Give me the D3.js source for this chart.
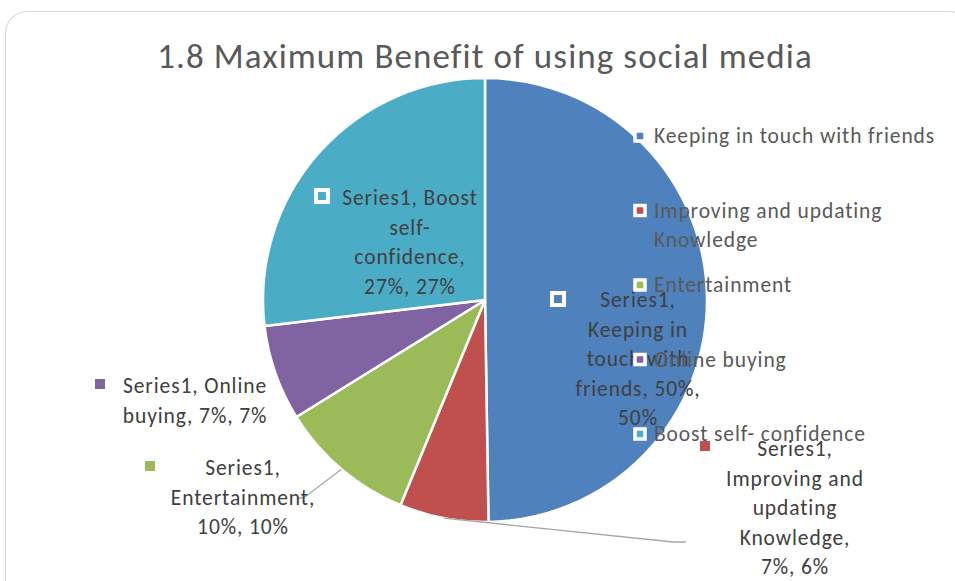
<!DOCTYPE html>
<html>
<head>
<meta charset="utf-8">
<script src="https://cdn.jsdelivr.net/npm/d3@7"></script>
<style>
  body { margin: 0; background: #fff; }
  svg { display: block; font-family: Calibri, Carlito, Lato, sans-serif; }
</style>
</head>
<body>
<svg id="chart" width="955" height="581"></svg>
<script>
// ---- data ----
const chartTitle = "1.8 Maximum Benefit of using social media";
const seriesName = "Series1";
const categories = [
  "Keeping in touch with friends",
  "Improving and updating Knowledge",
  "Entertainment",
  "Online buying",
  "Boost self- confidence"
];
const values = [0.50, 0.065, 0.10, 0.07, 0.27];
const colors = ["#4F81BD", "#C0504D", "#9BBB59", "#8064A2", "#4BACC6"];

// ---- layout ----
const cx = 485, cy = 300, R = 222;
const lineH = 29.5;
// data-label placement: text centre x, first baseline y, words per line, key position, leader end
const labelLayout = [
  { x: 638, y: 307, words: [1, 2, 2, 2, 1], kx: 558, ky: 299, boxed: true },
  { x: 795, y: 456, words: [1, 2, 1, 1, 2], kx: 705, ky: 446, leader: [[673, 542], [686, 542]] },
  { x: 243, y: 475, words: [1, 1, 2], kx: 150, ky: 466, leader: [[305, 497], [297, 499]] },
  { x: 195, y: 393, words: [2, 3], kx: 100, ky: 384 },
  { x: 410, y: 205, words: [2, 1, 1, 2], kx: 322, ky: 196, boxed: true }
];

const svg = d3.select("#chart");
const fmt = d3.format(".0%");
const total = d3.sum(values);

// chart frame
svg.append("rect")
  .attr("x", 5.5).attr("y", 11.5)
  .attr("width", 965).attr("height", 620)
  .attr("rx", 22).attr("ry", 22)
  .attr("fill", "#fff").attr("stroke", "#d9d9d9").attr("stroke-width", 1.2);

// title
svg.append("text")
  .attr("x", cx).attr("y", 68)
  .attr("text-anchor", "middle")
  .attr("font-size", 35)
  .attr("letter-spacing", 1.1)
  .attr("fill", "#595959")
  .text(chartTitle);

// pie
const pie = d3.pie().sort(null).value(d => d);
const arcs = pie(values);
const arc = d3.arc().innerRadius(0).outerRadius(R);

const g = svg.append("g").attr("transform", `translate(${cx},${cy})`);
g.selectAll("path.slice")
  .data(arcs)
  .join("path")
  .attr("class", "slice")
  .attr("d", arc)
  .attr("fill", (d, i) => colors[i])
  .attr("stroke", "#fff")
  .attr("stroke-width", 2.5)
  .attr("stroke-linejoin", "round");

// leader lines from the slice edge at its mid-angle
arcs.forEach((a, i) => {
  const L = labelLayout[i];
  if (!L.leader) return;
  const mid = (a.startAngle + a.endAngle) / 2;
  const start = [cx + R * Math.sin(mid), cy - R * Math.cos(mid)];
  svg.append("path")
    .attr("d", d3.line()([start, ...L.leader]))
    .attr("fill", "none")
    .attr("stroke", "#a6a6a6")
    .attr("stroke-width", 1.3);
});

// split a label into lines using a words-per-line pattern
function splitLines(text, pattern) {
  const words = text.split(" ");
  const lines = [];
  let p = 0;
  pattern.forEach(n => { lines.push(words.slice(p, p + n).join(" ")); p += n; });
  if (p < words.length) lines.push(words.slice(p).join(" "));
  return lines;
}

// word wrapping by rendered width (legend)
function wrapWords(text, width, size) {
  const probe = svg.append("text").attr("font-size", size)
    .attr("letter-spacing", 0.9).attr("visibility", "hidden");
  const words = text.split(" ");
  const lines = [];
  let cur = "";
  words.forEach(w => {
    const trial = cur ? cur + " " + w : w;
    probe.text(trial);
    if (cur && probe.node().getComputedTextLength() > width) {
      lines.push(cur);
      cur = w;
    } else {
      cur = trial;
    }
  });
  if (cur) lines.push(cur);
  probe.remove();
  return lines;
}

// data labels
const labelSize = 21.5;
arcs.forEach((a, i) => {
  const L = labelLayout[i];
  const str = `${seriesName}, ${categories[i]}, ${fmt(values[i])}, ${fmt(values[i] / total)}`;
  const lines = splitLines(str, L.words);
  const ks = L.boxed ? 12 : 10;
  svg.append("rect")
    .attr("x", L.kx - ks / 2).attr("y", L.ky - ks / 2)
    .attr("width", ks).attr("height", ks)
    .attr("fill", colors[i])
    .attr("stroke", "#fff").attr("stroke-width", L.boxed ? 4 : 0);
  const t = svg.append("text")
    .attr("text-anchor", "middle")
    .attr("font-size", labelSize)
    .attr("letter-spacing", 0.9)
    .attr("fill", "#404040");
  lines.forEach((ln, k) => {
    t.append("tspan").attr("x", L.x).attr("y", L.y + k * lineH).text(ln);
  });
});

// legend
const legendX = 640, legendTop = 136, legendStep = 74.5, legendSize = 21.5;
categories.forEach((c, i) => {
  const y = legendTop + i * legendStep;
  svg.append("rect")
    .attr("x", legendX - 5).attr("y", y - 5)
    .attr("width", 10).attr("height", 10)
    .attr("fill", colors[i])
    .attr("stroke", "#fff").attr("stroke-width", 3.5);
  const lines = wrapWords(c, 295, legendSize);
  const t = svg.append("text")
    .attr("font-size", legendSize)
    .attr("letter-spacing", 0.9)
    .attr("fill", "#595959");
  lines.forEach((ln, k) => {
    t.append("tspan").attr("x", legendX + 14).attr("y", y + 7 + k * lineH).text(ln);
  });
});
</script>
</body>
</html>
